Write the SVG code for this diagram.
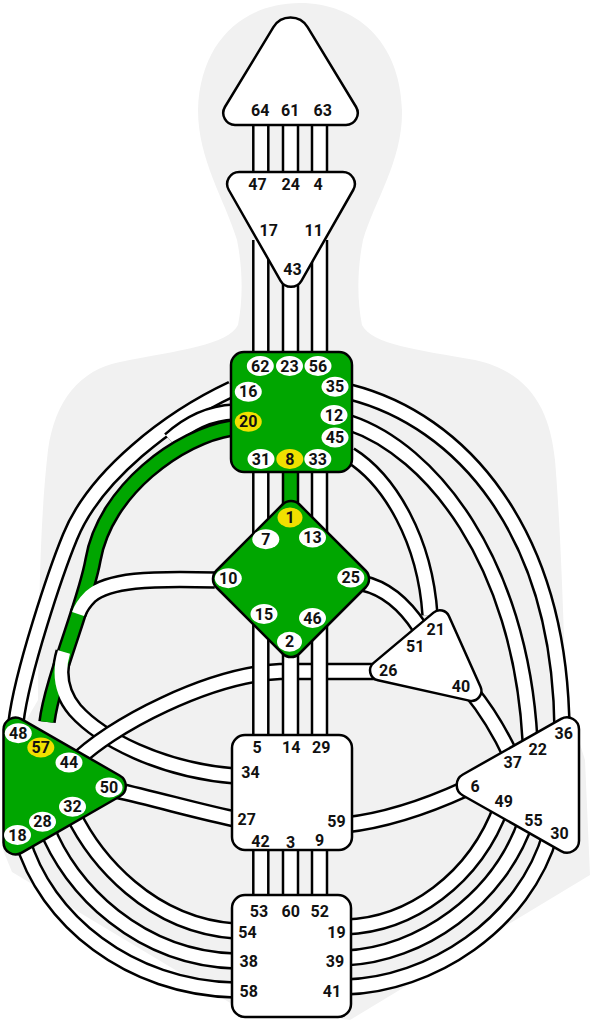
<svg xmlns="http://www.w3.org/2000/svg" width="591" height="1024" viewBox="0 0 591 1024">
<style>
.ck{fill:none;stroke:#000;stroke-width:17.5}
.cw{fill:none;stroke:#fff;stroke-width:12.5}
.cg{fill:none;stroke:#00a600;stroke-width:12.5}
.ctr{stroke:#000;stroke-width:2.5;stroke-linejoin:round}
.w{fill:#fff}
.g{fill:#00a600}
.ly{fill:#f0e000}
text{font-family:Roboto,"Liberation Sans",Arial,sans-serif;font-weight:700;font-size:16px;text-anchor:middle;fill:#111}
</style>
<defs>
<path id="p1648" d="M 232 389 C 170 418, 95 475, 70 537 C 56 571, 22 672, 16 722"/>
<path id="p2034" d="M 234 412 C 210 413, 190 422, 170 440"/>
<path id="p2057" d="M 232 428 C 180 436, 105 490, 93 560 C 85.8 602, 52 680, 47 722"/>
<path id="p10" d="M 215 580 C 150 578, 108 580, 90 596 C 84 602, 80 608, 78 614"/>
<path id="p34" d="M 64 652 C 58 672, 60 692, 75 710 C 100 738, 160 770, 235 776"/>
<path id="p4426" d="M 380 671.5 L 280 671.5 C 210 675, 110 725, 72 765"/>
<path id="p2750" d="M 115 790 C 160 800, 200 812, 240 820"/>
<path id="p2551" d="M 362 583 C 385 588, 405 605, 420 628"/>
<path id="p4521" d="M 350 455 C 390 480, 425 540, 430 615"/>
<path id="p1222" d="M 350 423 C 430 450, 520 560, 530 740"/>
<path id="p3536" d="M 350 392 C 460 420, 560 530, 562 730"/>
<path id="p4037" d="M 470 690 C 485 708, 498 728, 512 758"/>
<path id="p596" d="M 345 825 C 390 820, 430 805, 465 789"/>
<path id="p5432" d="M 72 812 C 95 860, 150 925, 235 931"/>
<path id="p3828" d="M 46 826 C 70 890, 140 958, 235 961"/>
<path id="p5818" d="M 22 838 C 45 920, 130 988, 235 990"/>
<path id="p1949" d="M 345 927 C 410 925, 475 880, 502 805"/>
<path id="p3955" d="M 345 958 C 420 955, 500 900, 527 818"/>
<path id="p4130" d="M 345 987 C 430 985, 525 925, 551 832"/>
<path id="v1" d="M 260.8 118 V 182 M 290.5 118 V 182 M 319.5 118 V 182"/>
<path id="v2" d="M 260.8 240 V 362 M 290.5 260 V 362 M 319.5 240 V 362"/>
<path id="v3a" d="M 260.8 465 V 545 M 319.5 465 V 545"/>
<path id="v3b" d="M 290.5 465 V 520"/>
<path id="v4" d="M 260.8 610 V 745 M 290.5 640 V 745 M 319.5 610 V 745"/>
<path id="v5" d="M 260.8 842 V 902 M 290.5 842 V 902 M 319.5 842 V 902"/>
</defs>
<path id="body" fill="#f1f1f1" d="M 300 3 C 355 3, 400 40, 402 110 C 403 160, 375 200, 363 240 C 357 270, 357 300, 362 325 C 372 345, 420 350, 475 360 C 530 372, 550 410, 555 460 C 560 520, 563 600, 566 700 L 585 760 L 590 875 L 350 1020 L 232 1004 L 12 872 L 3 850 L 3 760 L 38 700 C 39 600, 40 520, 48 450 C 55 400, 80 370, 120 362 C 180 350, 228 345, 238 325 C 243 300, 243 270, 237 240 C 225 200, 198 160, 198 110 C 200 40, 245 3, 300 3 Z"/>
<g id="connectors">
<use href="#p1648" class="ck"/><use href="#p1648" class="cw"/>
<use href="#p2034" class="ck"/><use href="#p2034" class="cw"/>
<use href="#p10" class="ck"/><use href="#p34" class="ck"/>
<use href="#p2057" class="ck"/><use href="#p2057" class="cg"/>
<use href="#p10" class="cw"/><use href="#p34" class="cw"/>
<use href="#p4426" class="ck"/><use href="#p4426" class="cw"/>
<use href="#p2750" class="ck"/><use href="#p2750" class="cw"/>
<use href="#p2551" class="ck"/><use href="#p2551" class="cw"/>
<use href="#p3536" class="ck"/><use href="#p3536" class="cw"/>
<use href="#p1222" class="ck"/><use href="#p1222" class="cw"/>
<use href="#p4521" class="ck"/><use href="#p4521" class="cw"/>
<use href="#p4037" class="ck"/><use href="#p4037" class="cw"/>
<use href="#p596" class="ck"/><use href="#p596" class="cw"/>
<use href="#p5432" class="ck"/><use href="#p5432" class="cw"/>
<use href="#p3828" class="ck"/><use href="#p3828" class="cw"/>
<use href="#p5818" class="ck"/><use href="#p5818" class="cw"/>
<use href="#p1949" class="ck"/><use href="#p1949" class="cw"/>
<use href="#p3955" class="ck"/><use href="#p3955" class="cw"/>
<use href="#p4130" class="ck"/><use href="#p4130" class="cw"/>
<use href="#v1" class="ck"/><use href="#v1" class="cw"/>
<use href="#v2" class="ck"/><use href="#v2" class="cw"/>
<use href="#v3a" class="ck"/><use href="#v3a" class="cw"/>
<use href="#v3b" class="ck"/><use href="#v3b" class="cg"/>
<use href="#v4" class="ck"/><use href="#v4" class="cw"/>
<use href="#v5" class="ck"/><use href="#v5" class="cw"/>
</g>
<g id="head">
<path class="ctr w" d="M 273.4 27.2 A 20 20 0 0 1 307.6 27.2 L 356.1 107 A 12 12 0 0 1 346 125 L 235 125 A 12 12 0 0 1 224.9 107 Z"/>
<text x="260.3" y="115.7">64</text><text x="290.3" y="115.7">61</text><text x="322.8" y="115.7">63</text>
</g>
<g id="ajna">
<path class="ctr w" d="M 239.3 172 L 342.7 172 A 12 12 0 0 1 353.2 190 L 301.4 280.8 A 12 12 0 0 1 280.6 280.8 L 228.8 190 A 12 12 0 0 1 239.3 172 Z"/>
<text x="257.5" y="190.2">47</text><text x="290.8" y="190.2">24</text><text x="318" y="190.2">4</text>
<text x="268.7" y="235.7">17</text><text x="313.8" y="235.7">11</text><text x="292.5" y="274.7">43</text>
</g>
<g id="throat">
<rect class="ctr g" x="231" y="352" width="121" height="120" rx="13"/>
<g class="w">
<ellipse cx="260.3" cy="366" rx="13.5" ry="10"/><ellipse cx="289.5" cy="366" rx="13.5" ry="10"/><ellipse cx="318" cy="366" rx="13.5" ry="10"/>
<ellipse cx="335" cy="386.7" rx="13.5" ry="10"/><ellipse cx="248.3" cy="391.7" rx="13.5" ry="10"/><ellipse cx="334" cy="415" rx="13.5" ry="10"/>
<ellipse cx="335" cy="437.5" rx="13.5" ry="10"/><ellipse cx="261" cy="459" rx="13.5" ry="10"/><ellipse cx="317.8" cy="459" rx="13.5" ry="10"/>
</g>
<ellipse class="ly" cx="248.3" cy="421.7" rx="13.5" ry="10"/><ellipse class="ly" cx="289.8" cy="459" rx="13.5" ry="10"/>
<text x="260.3" y="371.7">62</text><text x="289.5" y="371.7">23</text><text x="318" y="371.7">56</text>
<text x="335" y="392.4">35</text><text x="248.3" y="397.4">16</text><text x="334" y="420.7">12</text>
<text x="248.3" y="427.4">20</text><text x="335" y="443.2">45</text>
<text x="261" y="464.7">31</text><text x="289.8" y="464.7">8</text><text x="317.8" y="464.7">33</text>
</g>
<g id="g-center">
<path class="ctr g" d="M 282.5 504.5 A 12 12 0 0 1 299.5 504.5 L 365.5 570.5 A 12 12 0 0 1 365.5 587.5 L 299.5 653.5 A 12 12 0 0 1 282.5 653.5 L 216.5 587.5 A 12 12 0 0 1 216.5 570.5 Z"/>
<ellipse class="ly" cx="290" cy="517.5" rx="12.5" ry="10"/>
<g class="w">
<ellipse cx="265.8" cy="539.3" rx="13.5" ry="10"/><ellipse cx="312.5" cy="537.5" rx="13.5" ry="10"/>
<ellipse cx="228.3" cy="578.3" rx="13.5" ry="10"/><ellipse cx="350.8" cy="577.5" rx="13.5" ry="10"/>
<ellipse cx="264" cy="614" rx="13.5" ry="10"/><ellipse cx="312.5" cy="618" rx="13.5" ry="10"/>
<ellipse cx="289.5" cy="641.7" rx="12.5" ry="10"/>
</g>
<text x="290" y="523.2">1</text><text x="265.8" y="545">7</text><text x="312.5" y="543.2">13</text>
<text x="228.3" y="584">10</text><text x="350.8" y="583.2">25</text>
<text x="264" y="619.7">15</text><text x="312.5" y="623.7">46</text><text x="289.5" y="647.4">2</text>
</g>
<g id="spleen">
<path class="ctr g" d="M 21.4 719.2 L 119.6 775.5 A 12 12 0 0 1 119.6 796.5 L 21.4 852.8 A 12 12 0 0 1 3.5 842.4 L 3.5 729.6 A 12 12 0 0 1 21.4 719.2 Z"/>
<g class="w">
<ellipse cx="18.3" cy="733.3" rx="13.5" ry="10"/><ellipse cx="69" cy="762.5" rx="13.5" ry="10"/>
<ellipse cx="109" cy="787.5" rx="13.5" ry="10"/><ellipse cx="72.5" cy="806.7" rx="13.5" ry="10"/>
<ellipse cx="42.5" cy="821.7" rx="13.5" ry="10"/><ellipse cx="17.5" cy="835" rx="13.5" ry="10"/>
</g>
<ellipse class="ly" cx="40.8" cy="747.5" rx="13.5" ry="10"/>
<text x="18.3" y="739">48</text><text x="40.8" y="753.2">57</text><text x="69" y="768.2">44</text>
<text x="109" y="793.2">50</text><text x="72.5" y="812.4">32</text><text x="42.5" y="827.4">28</text><text x="17.5" y="840.7">18</text>
</g>
<g id="ego">
<path class="ctr w" d="M 449 616.2 L 480.5 686.7 A 10 10 0 0 1 469.2 700.6 L 377.9 680.3 A 10 10 0 0 1 373.65 662.85 L 433.5 612.6 A 10 10 0 0 1 449 616.2 Z"/>
<text x="435.8" y="634.9">21</text><text x="415.3" y="652">51</text><text x="388.3" y="675.7">26</text><text x="461" y="691.5">40</text>
</g>
<g id="solar-plexus">
<path class="ctr w" d="M 462.9 774.5 L 561.1 718.9 A 12 12 0 0 1 579 729.3 L 579 840.7 A 12 12 0 0 1 561.1 851.1 L 462.9 795.5 A 12 12 0 0 1 462.9 774.5 Z"/>
<text x="563.7" y="738.7">36</text><text x="537.7" y="755">22</text><text x="512.8" y="767.9">37</text>
<text x="475" y="791.5">6</text><text x="503.8" y="806.9">49</text><text x="533.5" y="826">55</text><text x="559.5" y="838.7">30</text>
</g>
<g id="sacral">
<rect class="ctr w" x="232" y="735" width="120" height="115" rx="13"/>
<text x="257" y="753.2">5</text><text x="291.3" y="753.2">14</text><text x="321.3" y="753.2">29</text>
<text x="250.5" y="778.2">34</text><text x="246.7" y="824.5">27</text><text x="336.5" y="826.5">59</text>
<text x="260.5" y="846.7">42</text><text x="290.5" y="848.2">3</text><text x="319.5" y="846.2">9</text>
</g>
<g id="root">
<rect class="ctr w" x="232" y="895" width="119" height="122" rx="13"/>
<text x="259" y="916.7">53</text><text x="290.8" y="916.7">60</text><text x="319.8" y="916.7">52</text>
<text x="247.5" y="938.2">54</text><text x="336.5" y="938.2">19</text>
<text x="248.8" y="966.7">38</text><text x="335" y="966.7">39</text>
<text x="248.8" y="996.7">58</text><text x="332" y="996.7">41</text>
</g>
</svg>
